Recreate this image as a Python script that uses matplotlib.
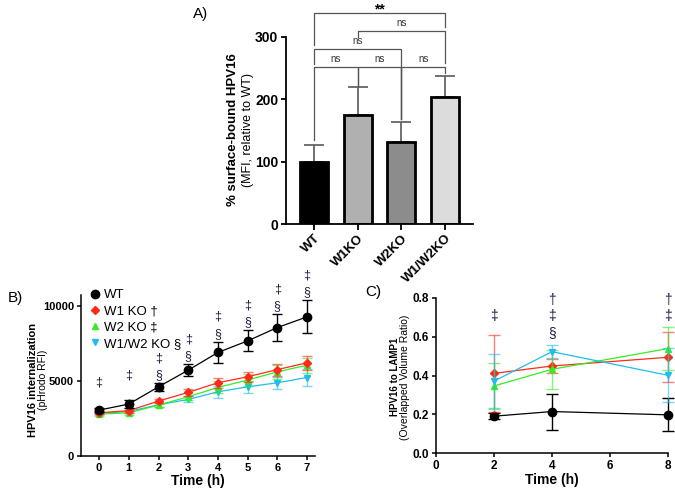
import matplotlib.pyplot as plt
from matplotlib.lines import Line2D
import numpy as np

# --- panel A data ---
groups = ['WT', 'W1KO', 'W2KO', 'W1/W2KO']
surf_mean = [100, 175, 131, 204]
surf_err = [27, 45, 32, 34]
bar_colors = ['#000000', '#b0b0b0', '#8c8c8c', '#dcdcdc']
# (left group, right group, bracket height, left leg end, right leg end, label)
comparisons = [
    (0, 1, 252, 135, 222, 'ns'),
    (1, 2, 252, 222, 168, 'ns'),
    (2, 3, 252, 168, 243, 'ns'),
    (0, 2, 281, 256, 168, 'ns'),
    (1, 3, 310, 300, 258, 'ns'),
    (0, 3, 339, 287, 316, '**'),
]

# --- panel B data ---
hours_b = [0, 1, 2, 3, 4, 5, 6, 7]
wt_b = [3060, 3460, 4610, 5720, 6900, 7670, 8560, 9270]
wt_b_err = [150, 250, 250, 400, 700, 700, 900, 1100]
w1_b = [2880, 3020, 3660, 4240, 4880, 5280, 5760, 6210]
w1_b_err = [100, 150, 120, 250, 350, 350, 400, 450]
w2_b = [2790, 2880, 3390, 3950, 4570, 5060, 5610, 6050]
w2_b_err = [100, 120, 120, 250, 400, 400, 450, 500]
w12_b = [2840, 2970, 3410, 3770, 4280, 4610, 4880, 5230]
w12_b_err = [100, 120, 120, 200, 400, 400, 400, 550]
marks_b = [['‡'], ['‡'], ['‡', '§'], ['‡', '§'], ['‡', '§'], ['‡', '§'], ['‡', '§'], ['‡', '§']]

# --- panel C data ---
hours_c = [2, 4, 8]
wt_c = [0.190, 0.214, 0.197]
wt_c_err = [0.015, 0.093, 0.085]
w1_c = [0.411, 0.449, 0.494]
w1_c_err = [0.20, 0.035, 0.13]
w2_c = [0.346, 0.432, 0.539]
w2_c_err = [0.12, 0.10, 0.11]
w12_c = [0.371, 0.523, 0.401]
w12_c_err = [0.14, 0.035, 0.14]
marks_c = [['‡'], ['†', '‡', '§'], ['†', '‡']]

RED = '#ff2a1a'
GREEN = '#33ee22'
CYAN = '#22bbee'
NAVY = '#1c2340'

plt.rcParams['font.family'] = ['Liberation Sans', 'DejaVu Sans']

fig = plt.figure(figsize=(6.75, 4.92), dpi=100)
W, H = 675, 492


def px_axes(l, t, r, b):
    return fig.add_axes([l / W, 1 - b / H, (r - l) / W, (b - t) / H])


def style(ax, lw=1.3):
    for s in ['top', 'right']:
        ax.spines[s].set_visible(False)
    for s in ['left', 'bottom']:
        ax.spines[s].set_linewidth(lw)
    for lab in ax.get_xticklabels() + ax.get_yticklabels():
        lab.set_fontweight('bold')


# ---------------- A ----------------
axA = px_axes(286, 37, 473, 224)
x = np.arange(len(groups))
axA.bar(x, surf_mean, width=0.64, color=bar_colors, edgecolor='black', linewidth=2, zorder=2)
axA.errorbar(x, surf_mean, yerr=[np.zeros(4), surf_err], fmt='none', ecolor='#666666',
             elinewidth=1.3, capsize=7, capthick=1.3, zorder=1)
axA.set_xlim(-0.64, 3.64)
axA.set_ylim(0, 300)
axA.set_yticks([0, 100, 200, 300])
axA.set_xticks(x)
axA.set_xticklabels(groups, rotation=45, ha='right', rotation_mode='anchor', fontsize=9.5)
axA.tick_params(axis='y', labelsize=10, width=1.3, length=3.5, pad=2)
axA.tick_params(axis='x', width=1.3, length=4, pad=2)
style(axA)
for i, j, h, yl, yr, lab in comparisons:
    axA.plot([i, i, j, j], [yl, h, h, yr], color='#555555', lw=0.9, clip_on=False)
    if lab == '**':
        axA.annotate(lab, ((i + j) / 2, h), xytext=(0, 2), textcoords='offset points',
                     ha='center', va='center', fontsize=10, fontweight='bold',
                     annotation_clip=False)
    else:
        axA.text((i + j) / 2, h + 4, lab, ha='center', va='bottom', fontsize=7, color='#333333')
fig.text(233 / W, 1 - 130 / H, '% surface-bound HPV16', rotation=90, ha='center', va='center',
         fontsize=9.5, fontweight='bold')
fig.text(248 / W, 1 - 130 / H, '(MFI, relative to WT)', rotation=90, ha='center', va='center',
         fontsize=9)
fig.text(193 / W, 1 - 14 / H, 'A)', ha='left', va='center', fontsize=11)

# ---------------- B ----------------
axB = px_axes(81, 295, 315, 456)
series_b = [
    (wt_b, wt_b_err, 'black', 'o', 'WT'),
    (w1_b, w1_b_err, RED, 'D', 'W1 KO †'),
    (w2_b, w2_b_err, GREEN, '^', 'W2 KO ‡'),
    (w12_b, w12_b_err, CYAN, 'v', 'W1/W2 KO §'),
]
handles = []
for vals, err, col, mk, lab in reversed(series_b):
    ms = 6 if mk == 'o' else 4.5
    ealpha = 1.0 if col == 'black' else 0.6
    axB.errorbar(hours_b, vals, yerr=err, fmt='none', ecolor=col, alpha=ealpha,
                 elinewidth=1.0, capsize=3.5)
    axB.plot(hours_b, vals, color=col, marker=mk, ms=ms, lw=0.9)
for vals, err, col, mk, lab in series_b:
    ms = 6 if mk == 'o' else 4.5
    handles.append(Line2D([], [], color=col, marker=mk, ms=ms, lw=0, label=lab))
for t, v, e, m in zip(hours_b, wt_b, wt_b_err, marks_b):
    offs = [18] if len(m) == 1 else [18, 6]
    for sym, o in zip(m, offs):
        axB.annotate(sym, (t, v + e), xytext=(0, o), textcoords='offset points', ha='center',
                     va='center', fontsize=9, color=NAVY, annotation_clip=False)
axB.set_xlim(-0.61, 7.27)
axB.set_ylim(0, 10730)
axB.set_yticks([0, 5000, 10000])
axB.set_xticks(hours_b)
axB.tick_params(labelsize=8, width=1.1, length=3, pad=2)
style(axB, 1.1)
axB.set_xlabel('Time (h)', fontsize=10, fontweight='bold', labelpad=1)
axB.legend(handles=handles, loc='upper left', bbox_to_anchor=(0.02, 1.07), frameon=False,
           fontsize=9.5, handlelength=0.6, handletextpad=0.4, labelspacing=0.3, borderaxespad=0)
fig.text(33 / W, 1 - 380 / H, 'HPV16 internalization', rotation=90, ha='center', va='center',
         fontsize=8, fontweight='bold')
fig.text(43 / W, 1 - 380 / H, '(pHrodo RFI)', rotation=90, ha='center', va='center', fontsize=7.5)
fig.text(8 / W, 1 - 298 / H, 'B)', ha='left', va='center', fontsize=11)

# ---------------- C ----------------
axC = px_axes(436, 298, 668, 453)
series_c = [
    (wt_c, wt_c_err, 'black', 'o'),
    (w1_c, w1_c_err, RED, 'D'),
    (w2_c, w2_c_err, GREEN, '^'),
    (w12_c, w12_c_err, CYAN, 'v'),
]
for vals, err, col, mk in series_c:
    ms = 6 if mk == 'o' else 4.5
    ealpha = 1.0 if col == 'black' else 0.6
    axC.errorbar(hours_c, vals, yerr=err, fmt='none', ecolor=col, alpha=ealpha,
                 elinewidth=1.0, capsize=4, clip_on=False)
    axC.plot(hours_c, vals, color=col, marker=mk, ms=ms, lw=0.9, clip_on=False)
sym_level = {'†': 0.788, '‡': 0.705, '§': 0.62}
for t, m in zip(hours_c, marks_c):
    for sym in m:
        axC.text(t, sym_level[sym], sym, ha='center', va='center', fontsize=10, color=NAVY)
axC.set_xlim(0, 8)
axC.set_ylim(0, 0.8)
axC.set_xticks([0, 2, 4, 6, 8])
axC.set_yticks([0.0, 0.2, 0.4, 0.6, 0.8])
axC.set_yticklabels(['0.0', '0.2', '0.4', '0.6', '0.8'])
axC.tick_params(labelsize=8.5, width=1.1, length=3, pad=2)
style(axC, 1.1)
axC.set_xlabel('Time (h)', fontsize=10, fontweight='bold', labelpad=1)
fig.text(395 / W, 1 - 377 / H, 'HPV16 to LAMP1', rotation=90, ha='center', va='center',
         fontsize=7, fontweight='bold')
fig.text(405 / W, 1 - 377 / H, '(Overlapped Volume Ratio)', rotation=90, ha='center', va='center',
         fontsize=7.5)
fig.text(365 / W, 1 - 292 / H, 'C)', ha='left', va='center', fontsize=11)

fig.savefig('out.png', dpi=100)
